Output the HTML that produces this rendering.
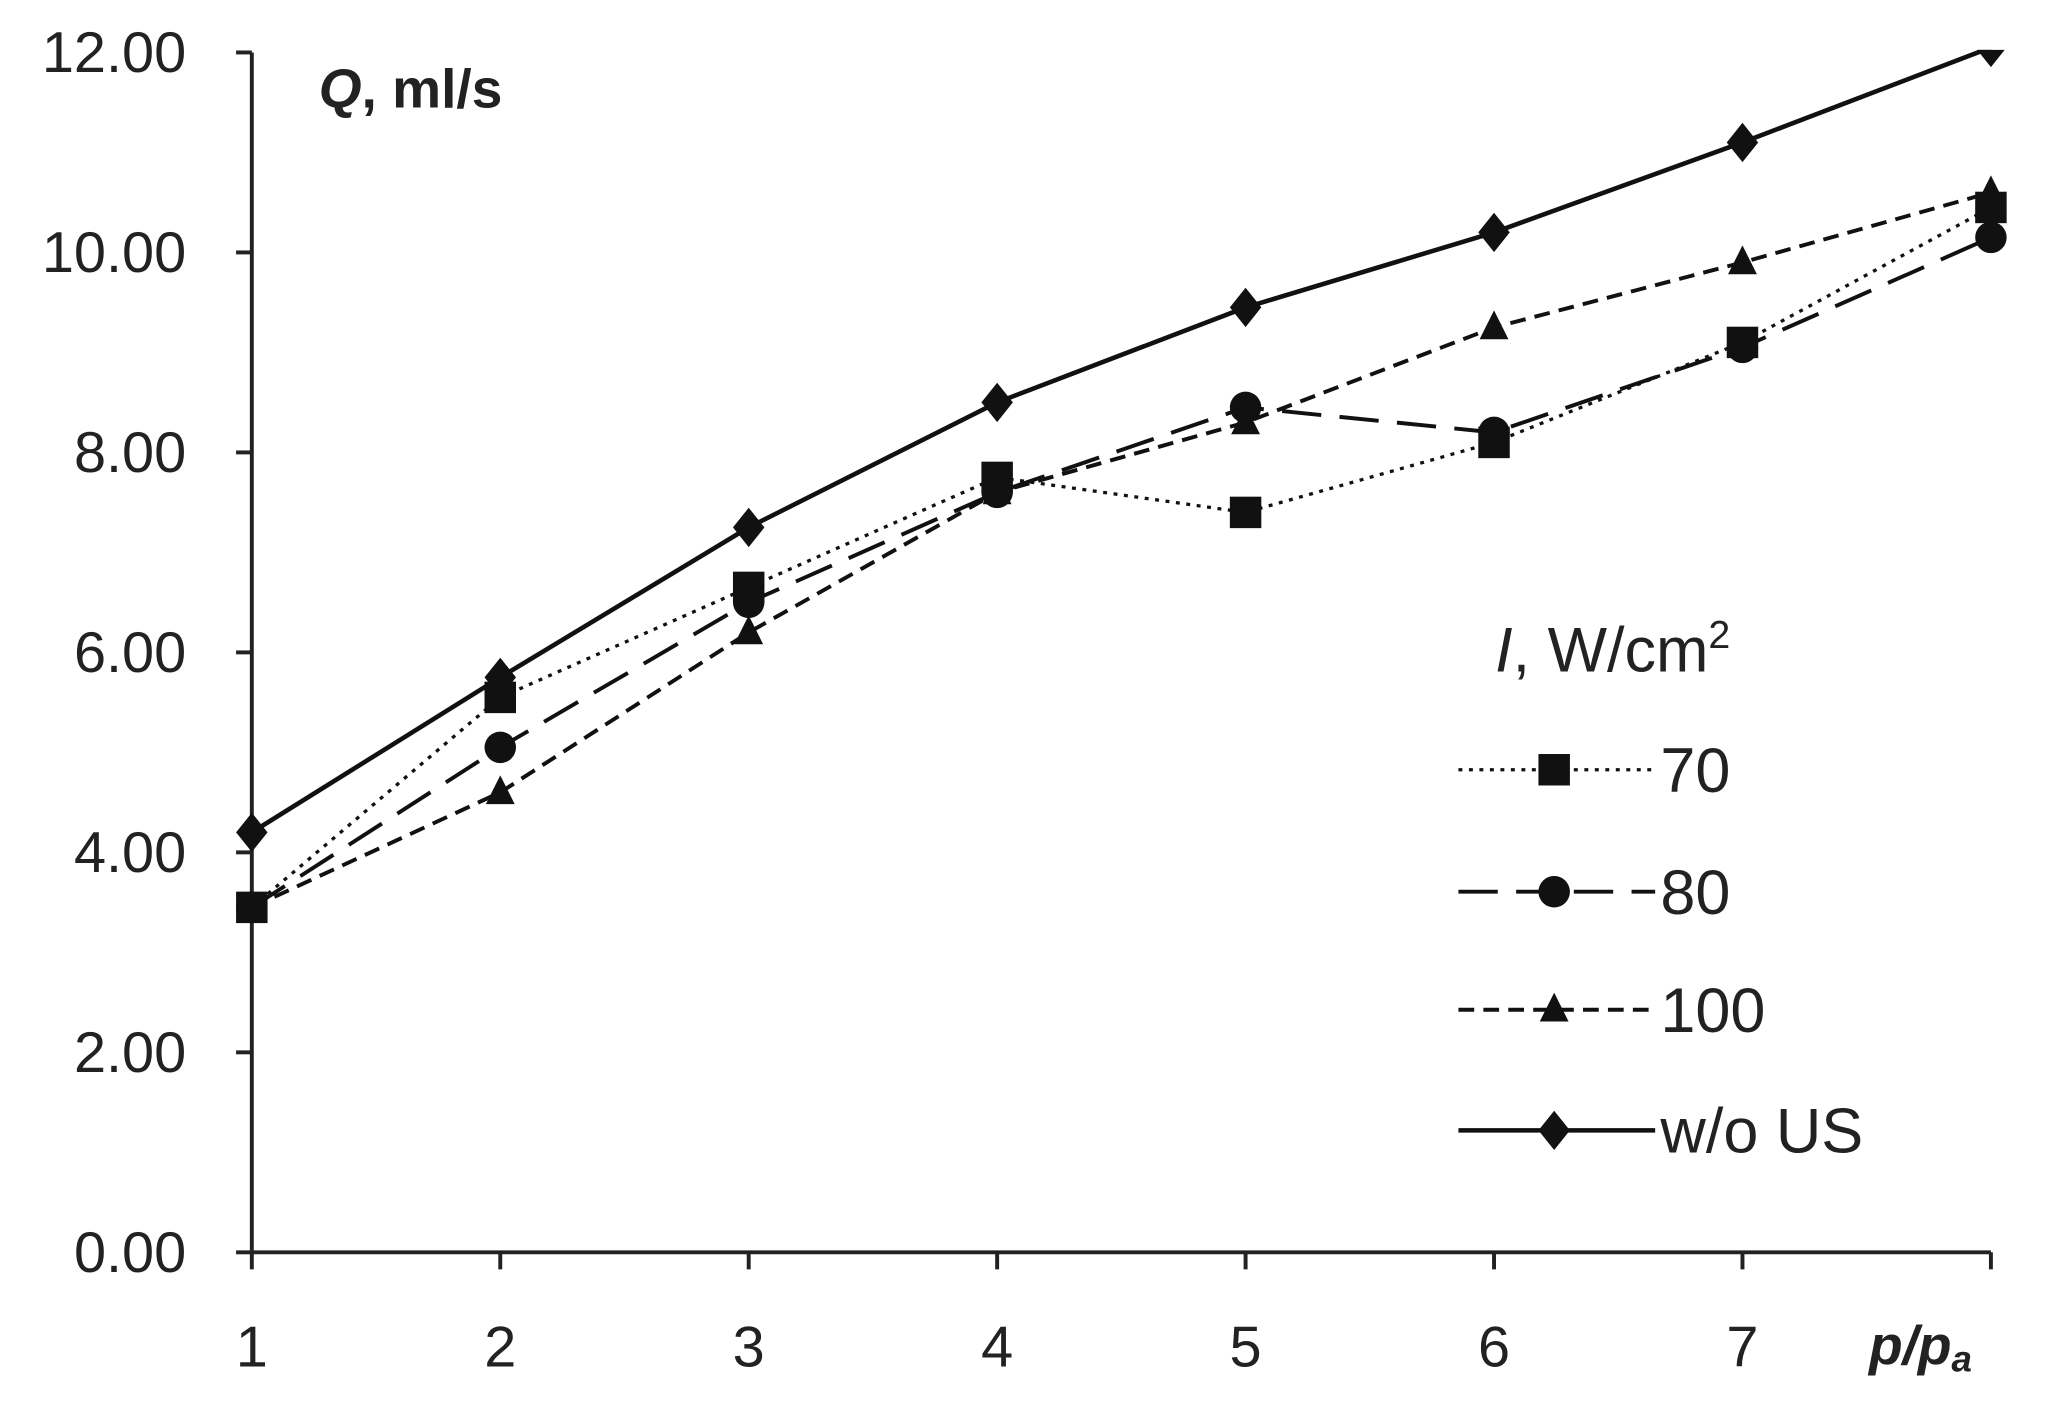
<!DOCTYPE html>
<html><head><meta charset="utf-8"><style>
html,body{margin:0;padding:0;background:#fff;}
svg{display:block;}
text{font-family:"Liberation Sans",sans-serif;fill:#222;}
</style></head><body>
<svg id="chart" width="2046" height="1411" viewBox="0 0 1560 1076" preserveAspectRatio="none" xmlns="http://www.w3.org/2000/svg">
<defs><clipPath id="plotclip"><rect x="150" y="38" width="1420" height="960"/></clipPath></defs>
<g id="axes"></g>
<g id="series" clip-path="url(#plotclip)"></g>
<g id="legend"></g>
<text x="243" y="82" font-size="42" font-weight="bold"><tspan font-style="italic">Q</tspan>, ml/s</text>
<text x="1425" y="1040" font-size="42" font-weight="bold" font-style="italic">p/p<tspan font-size="28" dy="6">a</tspan></text>
</svg>
<script>
const xCats=[1,2,3,4,5,6,7,8];
const xTickLabels=["1","2","3","4","5","6","7"];
const yTicks=[0,2,4,6,8,10,12];
const s70=[3.45,5.55,6.65,7.75,7.4,8.1,9.1,10.45];
const s80=[3.45,5.05,6.5,7.6,8.45,8.2,9.05,10.15];
const s100=[3.45,4.6,6.2,7.6,8.3,9.25,9.9,10.6];
const sNo=[4.2,5.75,7.25,8.5,9.45,10.2,11.1,12.05];
const NS="http://www.w3.org/2000/svg";
const X=v=>192+(v-1)*(1518-192)/7;
const Y=v=>955-v*(955-40)/12;
function mk(tag,attrs,parent){const e=document.createElementNS(NS,tag);for(const k in attrs)e.setAttribute(k,attrs[k]);parent.appendChild(e);return e;}
const ax=document.getElementById('axes');
let l=mk('line',{x1:192,y1:40,x2:192,y2:955,stroke:'#222','stroke-width':3},ax);


l=mk('line',{x1:192,y1:955,x2:1518,y2:955,stroke:'#222','stroke-width':3},ax);


yTicks.forEach(t=>{
 const tk=mk('line',{x1:180,y1:Y(t),x2:192,y2:Y(t),stroke:'#222','stroke-width':3},ax);
 
 
 const tx=mk('text',{x:142,y:Y(t)+15,'font-size':44,'text-anchor':'end'},ax);
 tx.textContent=t.toFixed(2);
 
 
});
xCats.forEach((c,i)=>{
 const tk=mk('line',{x1:X(c),y1:955,x2:X(c),y2:968,stroke:'#222','stroke-width':3},ax);
 
 
 if(xTickLabels[i]){
 const tx=mk('text',{x:X(c),y:1042,'font-size':44,'text-anchor':'middle'},ax);
 tx.textContent=xTickLabels[i];
 
 }
});
function marker(type,x,y,g){
 let m;
 if(type==='sq')m=mk('rect',{x:x-12,y:y-12,width:24,height:24,fill:'#111'},g);
 else if(type==='ci')m=mk('circle',{cx:x,cy:y,r:12,fill:'#111'},g);
 else if(type==='tr')m=mk('polygon',{points:`${x},${y-13} ${x+11},${y+9} ${x-11},${y+9}`,fill:'#111'},g);
 else m=mk('polygon',{points:`${x},${y-15} ${x+12},${y} ${x},${y+15} ${x-12},${y}`,fill:'#111'},g);
 return m;
}
const S=[
 {name:'70',d:s70,dash:'3 5',w:2.5,m:'sq'},
 {name:'80',d:s80,dash:'30 14',w:3,m:'ci'},
 {name:'100',d:s100,dash:'12 7',w:3,m:'tr'},
 {name:'w/o US',d:sNo,dash:'',w:3.5,m:'di'}];
const sg=document.getElementById('series');
S.forEach(s=>{
 const g=mk('g',{},sg);
 
 
 const p=mk('polyline',{points:s.d.map((v,i)=>X(xCats[i])+','+Y(v)).join(' '),fill:'none',stroke:'#111','stroke-width':s.w,'stroke-dasharray':s.dash},g);
 
 
 s.d.forEach((v,i)=>{const m=marker(s.m,X(xCats[i]),Y(v),g);
 
 });
});
const lg=document.getElementById('legend');
const lt=mk('text',{x:1140,y:512,'font-size':48},lg);
lt.innerHTML='<tspan font-style="italic">I</tspan>, W/cm<tspan font-size="30" dy="-18">2</tspan>';


const ly=[587,680,770,862];
S.forEach((s,i)=>{
 const g=mk('g',{},lg);
 
 
 mk('line',{x1:1112,y1:ly[i],x2:1262,y2:ly[i],stroke:'#111','stroke-width':s.w,'stroke-dasharray':s.dash},g);
 marker(s.m,1185,ly[i],g);
 const t=mk('text',{x:1266,y:ly[i]+17,'font-size':48},g);
 t.textContent=s.name;
});
</script>
</body></html>
